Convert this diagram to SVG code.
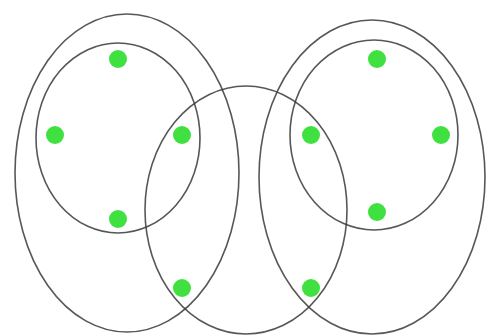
<svg xmlns="http://www.w3.org/2000/svg" width="487" height="336" viewBox="0 0 487 336">
<style>
.e{fill:none;stroke:#3a3a3a;stroke-width:1.6;opacity:0.85}
.d{fill:#3fe03f}
</style>
<rect width="487" height="336" fill="#fff"/>
<g id="connectors">
<ellipse id="leftOuter" class="e" cx="127" cy="173" rx="112" ry="159"/>
<ellipse id="leftInner" class="e" cx="118" cy="138" rx="82" ry="95"/>
<ellipse id="middle" class="e" cx="246" cy="210" rx="101" ry="124"/>
<ellipse id="rightOuter" class="e" cx="372" cy="177" rx="113" ry="157"/>
<ellipse id="rightInner" class="e" cx="374" cy="135" rx="84" ry="95"/>
</g>
<g id="n1"><circle class="d" cx="118" cy="59" r="9"/></g>
<g id="n2"><circle class="d" cx="55" cy="135" r="9"/></g>
<g id="n3"><circle class="d" cx="182" cy="135" r="9"/></g>
<g id="n4"><circle class="d" cx="118" cy="219" r="9"/></g>
<g id="n5"><circle class="d" cx="182" cy="288" r="9"/></g>
<g id="n6"><circle class="d" cx="377" cy="59" r="9"/></g>
<g id="n7"><circle class="d" cx="311" cy="135" r="9"/></g>
<g id="n8"><circle class="d" cx="441" cy="135" r="9"/></g>
<g id="n9"><circle class="d" cx="377" cy="212" r="9"/></g>
<g id="n10"><circle class="d" cx="311" cy="288" r="9"/></g>
</svg>
